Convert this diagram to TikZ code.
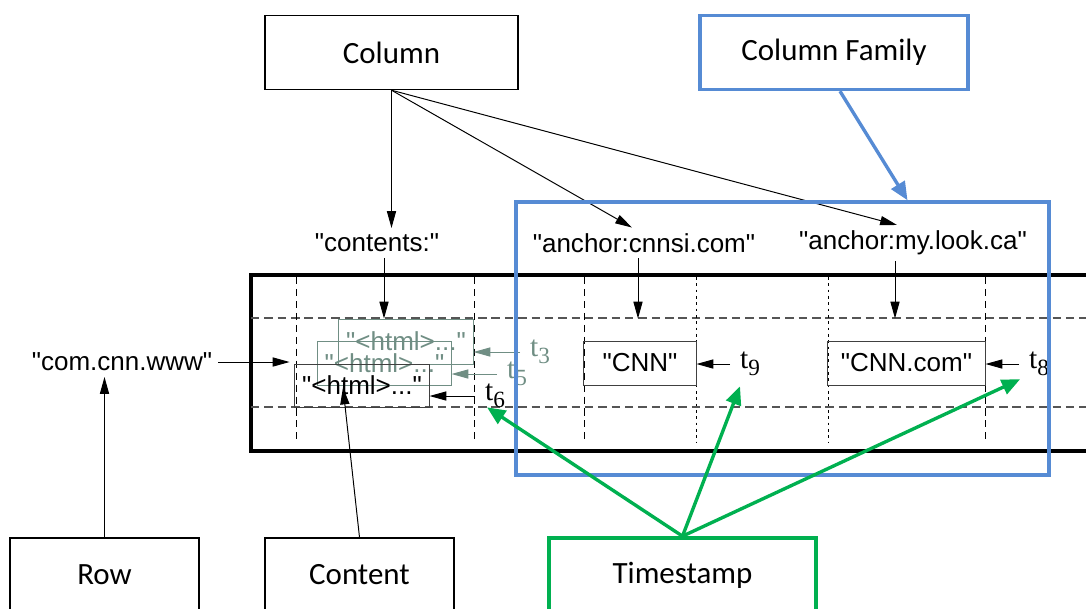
\documentclass[tikz,border=0pt]{standalone}
\usepackage{fontspec}
\setmainfont{Liberation Sans}
\newfontfamily\arial{Liberation Sans}
\newfontfamily\calibri{Carlito}
\newfontfamily\timesr{Liberation Serif}
\usetikzlibrary{arrows.meta, calc}
\definecolor{famblue}{RGB}{86,139,212}
\definecolor{stampgreen}{RGB}{0,176,80}
\definecolor{oldgray}{RGB}{112,142,132}
\definecolor{gridgray}{RGB}{85,85,85}
\newcommand{\tsub}[1]{t\raisebox{-0.5ex}{\fontsize{16.5}{16.5}\selectfont #1}}

\begin{document}
\begin{tikzpicture}[x=0.025cm, y=-0.025cm,
    callout/.style={draw, line width=1pt, font=\calibri\fontsize{22}{26}\selectfont, minimum height=1.85cm},
    keylabel/.style={font=\arial\fontsize{18.5}{22}\selectfont, inner sep=4pt},
    cellbox/.style={draw=black!75, line width=0.7pt, font=\arial\fontsize{18.5}{22}\selectfont, inner sep=0pt, minimum height=1.1cm},
    stamplabel/.style={font=\timesr\fontsize{21}{24}\selectfont, inner xsep=7pt, inner ysep=3pt, anchor=west},
    gridline/.style={line width=0.7pt, dash pattern=on 5pt off 3.5pt},
    dotline/.style={line width=0.7pt, dash pattern=on 2pt off 2.5pt},
    rowline/.style={gridgray, line width=0.8pt, dash pattern=on 6pt off 3.5pt},
    arr/.style={-{Triangle[length=12pt,width=6.5pt]}, line width=0.7pt},
    bigarr/.style={-{Triangle[length=13pt,width=11pt]}, line width=2.4pt}]
    \useasboundingbox (0,0) rectangle (1086,608);
    \draw[line width=2.2pt] (251,275) rectangle (1120,451);
    \foreach \y in {318,407} \draw[rowline] (251,\y) -- (1100,\y);
    \foreach \x in {296,474,584,985} \draw[gridline] (\x,277) -- (\x,443);
    \foreach \x in {696,828} \draw[dotline] (\x,277) -- (\x,443);
    \node[cellbox, draw=oldgray, text=oldgray, minimum width=3.35cm, minimum height=1.125cm] (html3) at (406,341.5) {"<html>..."};
    \node[cellbox, draw=oldgray, text=oldgray, minimum width=3.325cm] (html5) at (384.5,363) {"<html>..."};
    \node[cellbox, minimum width=3.35cm, minimum height=1.075cm] (html6) at (362,385.5) {"<html>..."};
    \node[cellbox, minimum width=2.8cm] (cnn) at (640,363) {"CNN"};
    \node[cellbox, minimum width=3.925cm] (cnncom) at (906.5,363) {"CNN.com"};
    \node[stamplabel, text=oldgray] (t3) at (520,352) {\tsub{3}};
    \node[stamplabel, text=oldgray] (t5) at (497,374) {\tsub{5}};
    \node[stamplabel] (t6) at (475,396) {\tsub{6}};
    \node[stamplabel] (t9) at (730,364) {\tsub{9}};
    \node[stamplabel] (t8) at (1019,364) {\tsub{8}};
    \draw[arr, oldgray] (t3.west) -- (t3.west -| html3.east);
    \draw[arr, oldgray] (t5.west) -- (t5.west -| html5.east);
    \draw[arr] (t6.west) -- (t6.west -| html6.east);
    \draw[arr] (t9.west) -- (t9.west -| cnn.east);
    \draw[arr] (t8.west) -- (t8.west -| cnncom.east);
    \node[keylabel] (rowkey) at (122,362) {"com.cnn.www"};
    \node[keylabel] (contents) at (377,243) {"contents:"};
    \node[keylabel] (cnnsi) at (644,243) {"anchor:cnnsi.com"};
    \node[keylabel] (mylook) at (913,243) {"anchor:my.look.ca"};
    \draw[arr, shorten >=3.5pt] (rowkey.east) -- (rowkey.east -| html6.west);
    \node[callout, minimum width=6.325cm] (column) at (391.5,52.5) {Column};
    \node[callout, draw=famblue, line width=2.4pt, minimum width=6.7cm] (family) at (834,52.5) {Column Family};
    \node[callout, minimum width=4.725cm] (row) at (104.5,575) {Row};
    \node[callout, minimum width=4.725cm] (content) at (359.5,575) {Content};
    \node[callout, draw=stampgreen, line width=2.6pt, minimum width=6.675cm] (timestamp) at (682.5,575) {Timestamp};
    \coordinate (c1) at (contents.north -| column.south);
    \draw[arr] (column.south) -- (c1);
    \draw[arr] (column.south) -- ($(cnnsi.north)+(-12,0)$);
    \draw[arr] (column.south) -- ($(mylook.north)+(-16,0)$);
    \coordinate (k1) at ($(contents.south)+(7,0)$);
    \coordinate (k2) at ($(cnnsi.south)+(-6,0)$);
    \coordinate (k3) at ($(mylook.south)+(-18,0)$);
    \foreach \k in {k1,k2,k3} \draw[arr] (\k) -- (\k |- html3.north);
    \draw[arr] (row.north) -- (row.north |- rowkey.south);
    \draw[arr] (content.north) -- ($(html6.center)+(-19,2)$);
    \node[draw=famblue, line width=2.4pt, minimum width=13.325cm, minimum height=6.825cm] (famregion) at (782.5,338.5) {};
    \draw[bigarr, famblue] ($(family.south)+(6,0)$) -- ($(famregion.north)+(125,0)$);
    \draw[bigarr, stampgreen] (timestamp.north) -- ($(t6.south)+(-8,-5)$);
    \draw[bigarr, stampgreen] (timestamp.north) -- ($(t9.south)+(-10,6)$);
    \draw[bigarr, stampgreen] (timestamp.north) -- ($(t8.south)+(-19,-1)$);
\end{tikzpicture}
\end{document}
